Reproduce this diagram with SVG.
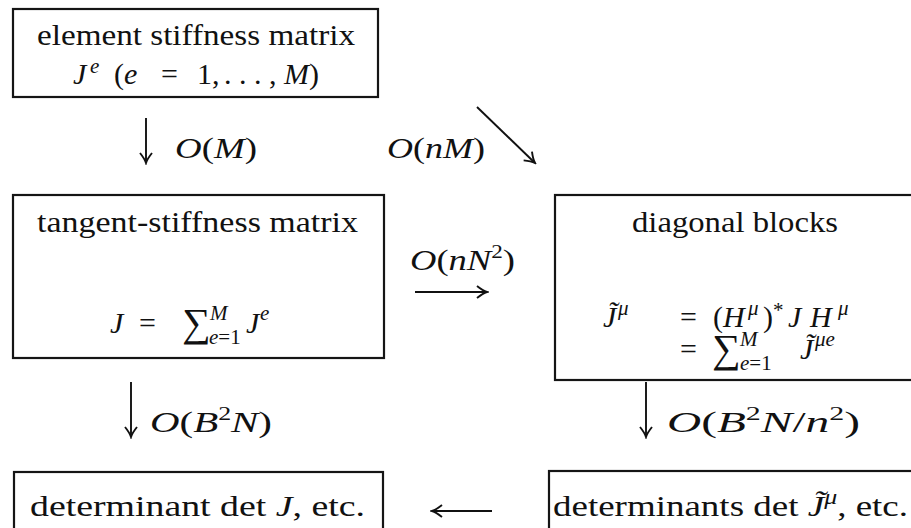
<svg xmlns="http://www.w3.org/2000/svg" width="911" height="528" viewBox="0 0 911 528">
<defs>
<marker id="ah" viewBox="-12 -8 14 16" refX="0" refY="0" markerWidth="14" markerHeight="16" markerUnits="userSpaceOnUse" orient="auto">
<path d="M-10,-6 Q-4,-1.2 0,0 Q-4,1.2 -10,6" fill="none" stroke="#111" stroke-width="1.9"/>
</marker>
<style>
text{font-family:"Liberation Serif","Times New Roman",serif;font-size:30px;fill:#111}
.i{font-style:italic}
.s{font-size:21px}
.d{font-size:19px}
.big{font-size:40px}
.box{fill:none;stroke:#151515;stroke-width:2.2}
.c{fill:none;stroke:#111;stroke-width:1.9;marker-end:url(#ah)}
</style>
</defs>
<rect width="911" height="528" fill="#fff"/>
<g id="n1">
<rect class="box" x="13" y="9" width="365" height="88"/>
<text x="196" y="45" text-anchor="middle" textLength="318" lengthAdjust="spacingAndGlyphs">element stiffness matrix</text>
<text y="84"><tspan x="73" class="i">J</tspan><tspan x="90" dy="-11" class="i s">e</tspan><tspan x="114" dy="11">(</tspan><tspan class="i">e</tspan><tspan x="161">=</tspan><tspan x="197">1,</tspan><tspan x="224">. . . ,</tspan><tspan x="284" class="i">M</tspan><tspan>)</tspan></text>
</g>
<g id="n2">
<rect class="box" x="13" y="195" width="371" height="163"/>
<text x="197.5" y="232" text-anchor="middle" textLength="321" lengthAdjust="spacingAndGlyphs">tangent-stiffness matrix</text>
<text y="333"><tspan x="110" class="i">J</tspan><tspan x="139">=</tspan><tspan x="182" y="336" class="big">∑</tspan><tspan x="210" y="320" class="i s">M</tspan><tspan x="209" y="344" class="i s">e</tspan><tspan class="s">=1</tspan><tspan x="246" y="333" class="i">J</tspan><tspan x="260" y="320" class="i s">e</tspan></text>
</g>
<g id="n3">
<rect class="box" x="555" y="195" width="362" height="185"/>
<text x="735" y="232" text-anchor="middle" textLength="206" lengthAdjust="spacingAndGlyphs">diagonal blocks</text>
<text y="327"><tspan x="603" class="i">J̃</tspan><tspan x="618" y="315" class="i s">μ</tspan><tspan x="680" y="327">=</tspan><tspan x="713">(</tspan><tspan class="i">H</tspan><tspan x="748" y="315" class="i s">μ</tspan><tspan x="763" y="327">)</tspan><tspan x="773" y="317" class="s">*</tspan><tspan x="788" y="327" class="i">J</tspan><tspan x="810" class="i">H</tspan><tspan x="838" y="315" class="i s">μ</tspan></text>
<text y="359"><tspan x="680">=</tspan><tspan x="712" y="362" class="big">∑</tspan><tspan x="740" y="346" class="i s">M</tspan><tspan x="740" y="370" class="i s">e</tspan><tspan class="s">=1</tspan><tspan x="800" y="359" class="i">J̃</tspan><tspan x="815" y="346" class="i s">μe</tspan></text>
</g>
<g id="n4">
<rect class="box" x="14" y="472" width="369" height="70"/>
<text x="30" y="516" textLength="335" lengthAdjust="spacingAndGlyphs">determinant det <tspan class="i">J</tspan>, etc.</text>
</g>
<g id="n5">
<rect class="box" x="549" y="471" width="368" height="70"/>
<text x="553" y="516" textLength="355" lengthAdjust="spacingAndGlyphs">determinants det <tspan class="i">J̃</tspan><tspan class="i s" dy="-12">μ</tspan><tspan dy="12">, etc.</tspan></text>
</g>
<g id="connectors">
<line class="c" x1="146" y1="118" x2="146" y2="163"/>
<line class="c" x1="477" y1="107" x2="535" y2="163"/>
<line class="c" x1="415" y1="292" x2="487" y2="292"/>
<line class="c" x1="131" y1="382" x2="131" y2="437"/>
<line class="c" x1="646" y1="382" x2="646" y2="437"/>
<line class="c" x1="492" y1="511" x2="432" y2="511"/>
<text x="175" y="158" textLength="82" lengthAdjust="spacingAndGlyphs"><tspan class="i">O</tspan>(<tspan class="i">M</tspan>)</text>
<text x="387" y="158" textLength="98" lengthAdjust="spacingAndGlyphs"><tspan class="i">O</tspan>(<tspan class="i">nM</tspan>)</text>
<text x="410" y="270" textLength="105" lengthAdjust="spacingAndGlyphs"><tspan class="i">O</tspan>(<tspan class="i">nN</tspan><tspan class="d" dy="-12">2</tspan><tspan dy="12">)</tspan></text>
<text x="150" y="432" textLength="122" lengthAdjust="spacingAndGlyphs"><tspan class="i">O</tspan>(<tspan class="i">B</tspan><tspan class="d" dy="-12">2</tspan><tspan class="i" dy="12">N</tspan>)</text>
<text x="667" y="432" textLength="193" lengthAdjust="spacingAndGlyphs"><tspan class="i">O</tspan>(<tspan class="i">B</tspan><tspan class="d" dy="-12">2</tspan><tspan class="i" dy="12">N</tspan>/<tspan class="i">n</tspan><tspan class="d" dy="-12">2</tspan><tspan dy="12">)</tspan></text>
</g>
</svg>
